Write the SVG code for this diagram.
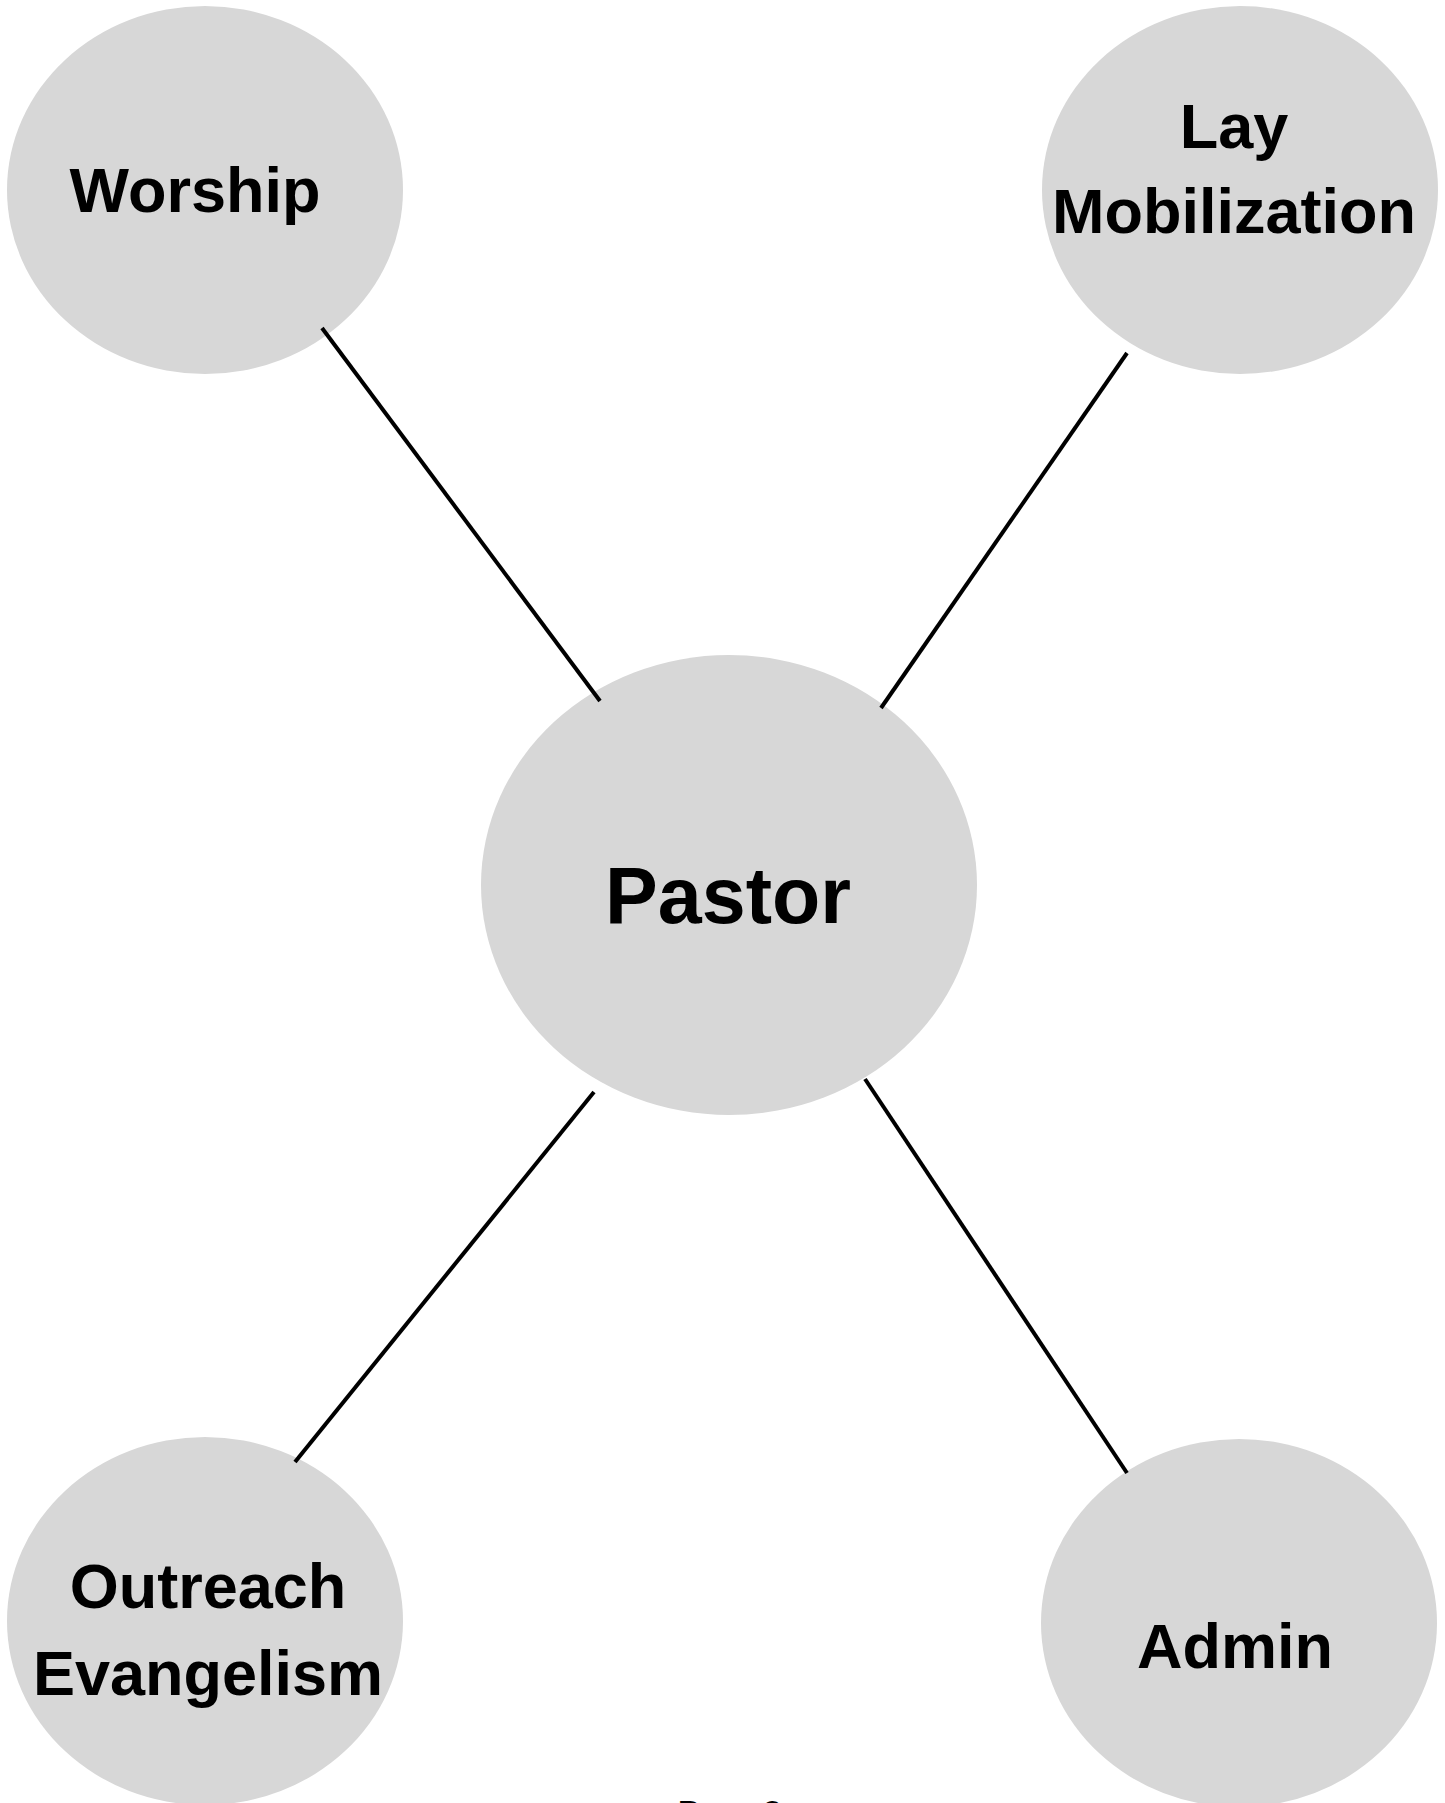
<svg xmlns="http://www.w3.org/2000/svg" width="1445" height="1803" viewBox="0 0 1445 1803">
<style>
.node{fill:#d7d7d7;stroke:none}
.lbl{font-family:"Liberation Sans",Arial,sans-serif;font-weight:bold;font-size:63px;fill:#000;text-anchor:middle}
.edge{stroke:#000;stroke-width:4;fill:none}
.foot{font-family:"Liberation Sans",Arial,sans-serif;font-weight:bold;font-size:32px;fill:#000}
</style>
<rect width="1445" height="1803" fill="#fff"/>
<g id="worship">
<ellipse class="node" cx="205" cy="190" rx="198" ry="184"/>
<text class="lbl" x="195" y="212">Worship</text>
</g>
<g id="lay-mobilization">
<ellipse class="node" cx="1240" cy="190" rx="198" ry="184"/>
<text class="lbl" x="1234" y="148">Lay</text>
<text class="lbl" x="1234" y="233">Mobilization</text>
</g>
<g id="pastor">
<ellipse class="node" cx="729" cy="885" rx="248" ry="230"/>
<text class="lbl" x="728" y="923" style="font-size:79px">Pastor</text>
</g>
<g id="outreach-evangelism">
<ellipse class="node" cx="205" cy="1621" rx="198" ry="184"/>
<text class="lbl" x="208" y="1608">Outreach</text>
<text class="lbl" x="208" y="1695">Evangelism</text>
</g>
<g id="admin">
<ellipse class="node" cx="1239" cy="1623" rx="198" ry="184"/>
<text class="lbl" x="1235" y="1668">Admin</text>
</g>
<g id="connectors">
<line class="edge" x1="322" y1="328" x2="600" y2="701"/>
<line class="edge" x1="1127" y1="353" x2="881" y2="708"/>
<line class="edge" x1="594" y1="1092" x2="295" y2="1462"/>
<line class="edge" x1="865" y1="1079" x2="1127" y2="1473"/>
</g>
<text class="foot" x="678" y="1823">Page 3</text>
</svg>
